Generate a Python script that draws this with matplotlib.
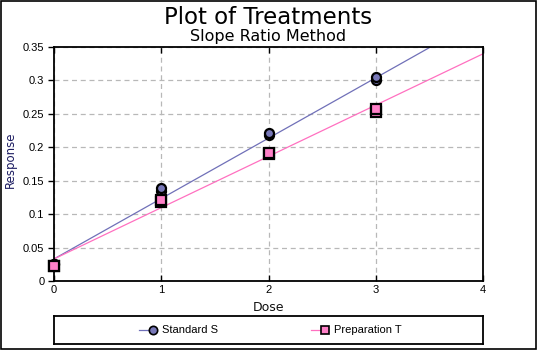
"""
plot.py - Plot of Treatments (slope ratio method), recreated with matplotlib.
"""
import matplotlib
matplotlib.use("Agg")
import matplotlib.pyplot as plt
import numpy as np
from matplotlib.patches import Rectangle

plt.rcParams["font.family"] = ["Liberation Sans", "DejaVu Sans"]

# data
dose_s = [0, 0, 1, 1, 2, 2, 3, 3]
resp_s = [0.025, 0.026, 0.135, 0.139, 0.218, 0.221, 0.300, 0.305]
dose_t = [0, 0, 1, 1, 2, 2, 3, 3]
resp_t = [0.022, 0.023, 0.118, 0.121, 0.190, 0.191, 0.253, 0.257]

# fitted lines (common intercept)
intercept = 0.033
slope_s = 0.0903
slope_t = 0.0767

x_ticks = [0, 1, 2, 3, 4]
y_ticks = [0, 0.05, 0.1, 0.15, 0.2, 0.25, 0.3, 0.35]
y_labels = ["0", "0.05", "0.1", "0.15", "0.2", "0.25", "0.3", "0.35"]

c_s_line = "#7070b8"
c_s_fill = "#7878b8"
c_t_line = "#ff70c0"
c_t_fill = "#ff80c8"

W, H = 538, 352
fig = plt.figure(figsize=(W / 100, H / 100), dpi=100, facecolor="white")

# outer frame
fig.patches.append(Rectangle((0.5 / W, 3.5 / H), 535 / W, 348 / H, transform=fig.transFigure,
                             fill=False, edgecolor="black", linewidth=1.2))

ax = fig.add_axes([54 / W, 1 - 281 / H, 429 / W, 234 / H])
ax.set_xlim(0, 4)
ax.set_ylim(0, 0.35)

xx = np.array([0, 4])
ax.plot(xx, intercept + slope_s * xx, color=c_s_line, lw=0.9, zorder=2)
ax.plot(xx, intercept + slope_t * xx, color=c_t_line, lw=0.9, zorder=2)

ax.plot(dose_s, resp_s, linestyle="none", marker="o", ms=6.5, mfc=c_s_fill, mec="black",
        mew=1.6, zorder=3, clip_on=False)
ax.plot(dose_t, resp_t, linestyle="none", marker="s", ms=6.5, mfc=c_t_fill, mec="black",
        mew=1.6, zorder=4, clip_on=False)

ax.set_xticks(x_ticks)
ax.set_xticklabels([str(v) for v in x_ticks])
ax.set_yticks(y_ticks)
ax.set_yticklabels(y_labels)
ax.tick_params(axis="both", labelsize=8, colors="black", length=4, width=1, pad=3)
ax.tick_params(axis="x", direction="in", top=True)
ax.tick_params(axis="y", direction="out")
ax.grid(True, color="#b8b8b8", linestyle=(0, (4, 3)), linewidth=0.9)
for sp in ax.spines.values():
    sp.set_linewidth(1.3)

ax.set_xlabel("Dose", fontsize=9, color="#101010", labelpad=4, family="DejaVu Sans")
fig.text(10 / W, 1 - 160 / H, "Response", rotation=90, fontsize=8.5, color="#1a1a60",
         ha="center", va="center", family="DejaVu Sans")

fig.text(0.498, 1 - 17 / H, "Plot of Treatments", fontsize=16.5, ha="center", va="center",
         family="DejaVu Sans")
fig.text(0.498, 1 - 36 / H, "Slope Ratio Method", fontsize=11.5, ha="center", va="center",
         family="DejaVu Sans")

# legend box
lax = fig.add_axes([54 / W, 1 - 344 / H, 429 / W, 28 / H])
lax.set_xlim(54, 483)
lax.set_ylim(0, 1)
lax.set_xticks([])
lax.set_yticks([])
for sp in lax.spines.values():
    sp.set_linewidth(1.3)
lax.plot([139, 153], [0.5, 0.5], color=c_s_line, lw=0.9)
lax.plot([153], [0.5], marker="o", ms=6, mfc=c_s_fill, mec="black", mew=1.2)
lax.text(162, 0.5, "Standard S", fontsize=8, va="center", ha="left")
lax.plot([311, 325], [0.5, 0.5], color=c_t_line, lw=0.9)
lax.plot([325], [0.5], marker="s", ms=5.5, mfc=c_t_fill, mec="black", mew=1.2)
lax.text(334, 0.5, "Preparation T", fontsize=8, va="center", ha="left")

fig.savefig("out.png", dpi=100, facecolor="white")
